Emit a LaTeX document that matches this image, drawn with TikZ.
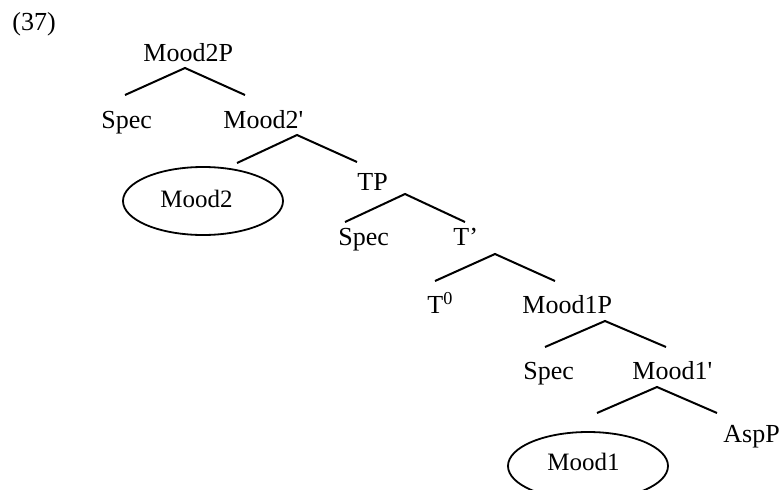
\documentclass[tikz,border=0pt]{standalone}
\usepackage{fontspec}
\setmainfont{Liberation Serif}
\usetikzlibrary{shapes.geometric}
\begin{document}
\begin{tikzpicture}[x=0.5pt,y=0.5pt]
\tikzstyle{cat}=[inner sep=0pt, anchor=base west, font=\fontsize{13}{15}\selectfont]
\tikzstyle{head}=[inner sep=0pt, anchor=base west, font=\fontsize{12.5}{15}\selectfont]
\tikzstyle{oval}=[draw, ellipse, line width=0.9pt, minimum width=80pt, minimum height=34pt, inner sep=0pt]
\tikzstyle{branch}=[line width=1pt]
\clip (0,0) rectangle (782,489);

\node[cat] (num) at (12,459) {(37)};
\node[cat] (mood2p) at (143,428) {Mood2P};
\node[cat] (spec1) at (101,361) {Spec};
\node[cat] (mood2bar) at (223,361) {Mood2\textquotesingle};
\node[oval] (mood2) at (203,288) {};
\node[head] (mood2-txt) at (160,282) {Mood2};
\node[cat] (tp) at (357,299) {TP};
\node[cat] (spec2) at (338,244) {Spec};
\node[cat] (tbar) at (453,244) {T’};
\node[cat] (t0) at (427,176) {T\textsuperscript{0}};
\node[cat] (mood1p) at (522,176) {Mood1P};
\node[cat] (spec3) at (523,110) {Spec};
\node[cat] (mood1bar) at (632,110) {Mood1\textquotesingle};
\node[cat] (aspp) at (723,47) {AspP};
\node[oval] (mood1) at (588,23) {};
\node[head] (mood1-txt) at (547,19) {Mood1};

% branches
\coordinate (mood2p-top) at (185,421);
\coordinate (mood2p-l) at (125,394);
\coordinate (mood2p-r) at (245,394);
\draw[branch] (mood2p-l) -- (mood2p-top) -- (mood2p-r);

\coordinate (mood2bar-top) at (297,354);
\coordinate (mood2bar-l) at (237,326);
\coordinate (mood2bar-r) at (357,327);
\draw[branch] (mood2bar-l) -- (mood2bar-top) -- (mood2bar-r);

\coordinate (tp-top) at (405,295);
\coordinate (tp-l) at (345,267);
\coordinate (tp-r) at (465,267);
\draw[branch] (tp-l) -- (tp-top) -- (tp-r);

\coordinate (tbar-top) at (495,235);
\coordinate (tbar-l) at (435,208);
\coordinate (tbar-r) at (555,208);
\draw[branch] (tbar-l) -- (tbar-top) -- (tbar-r);

\coordinate (mood1p-top) at (605,168);
\coordinate (mood1p-l) at (545,142);
\coordinate (mood1p-r) at (666,142);
\draw[branch] (mood1p-l) -- (mood1p-top) -- (mood1p-r);

\coordinate (mood1bar-top) at (657,102);
\coordinate (mood1bar-l) at (597,76);
\coordinate (mood1bar-r) at (717,76);
\draw[branch] (mood1bar-l) -- (mood1bar-top) -- (mood1bar-r);

\end{tikzpicture}
\end{document}
